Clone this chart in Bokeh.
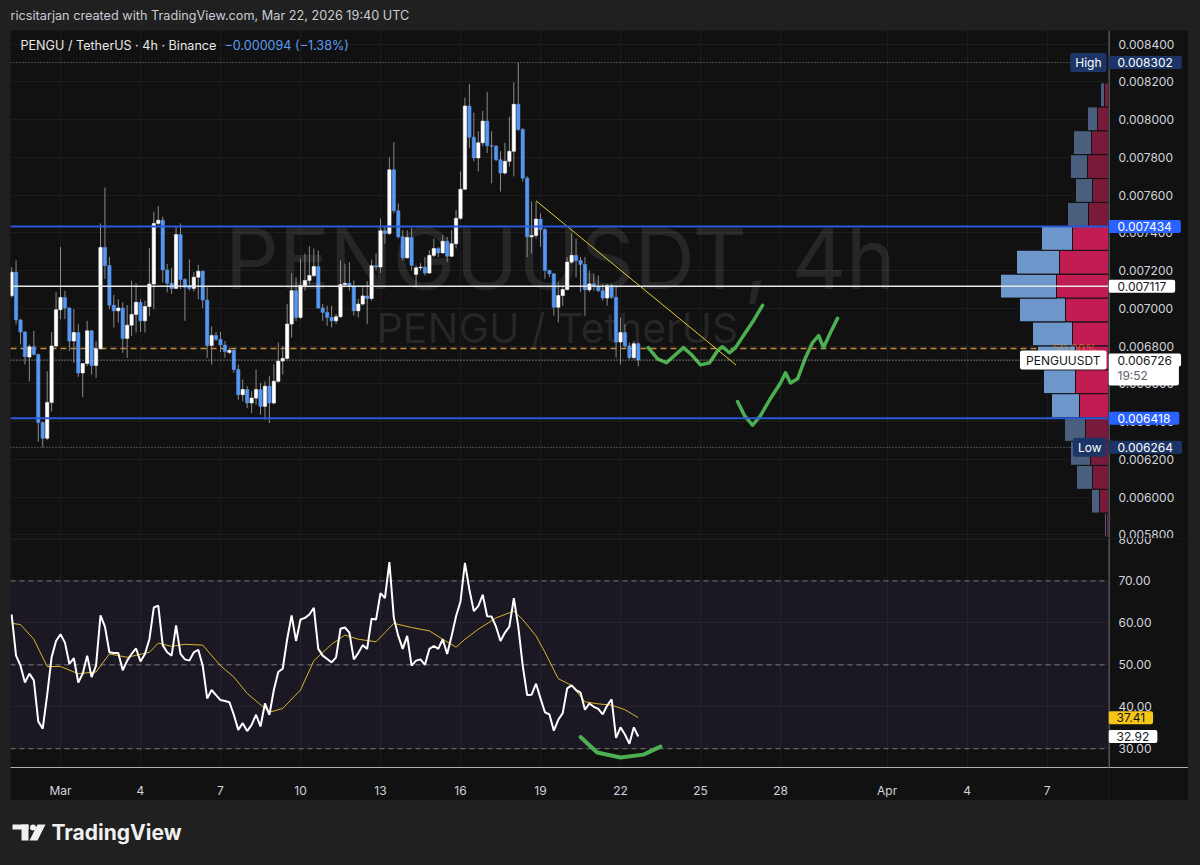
import pandas as pd
from bokeh.plotting import figure
from bokeh.models import (Range1d, FixedTicker, Label, Span, BoxAnnotation,
                          ColumnDataSource, GlobalInlineStyleSheet)
from bokeh.layouts import column, row
from bokeh.embed import file_html
from bokeh.resources import INLINE
from bokeh.core.properties import value

FONT = "Inter"
BG = "#111111"
OUTER = "#202020"
TXT = "#d1d4dc"
AXLINE = "#8f9196"

# ---------------- texts ----------------
header_text = "ricsitarjan created with TradingView.com, Mar 22, 2026 19:40 UTC"
symbol_text = "PENGU / TetherUS · 4h · Binance"
change_text = "−0.000094 (−1.38%)"
watermark_1 = "PENGUUSDT, 4h"
watermark_2 = "PENGU / TetherUS"

# ---------------- candle data (4h bars) ----------------
first_bar = "2026-02-27 04:00"
opens = [
 0.007067, 0.007192, 0.006939, 0.006875, 0.006742, 0.006797, 0.006756, 0.006395, 0.006312, 0.006502,
 0.006801, 0.006993, 0.007058, 0.007002, 0.006827, 0.006872, 0.006658, 0.006708, 0.006881, 0.006697,
 0.006786, 0.007323, 0.007227, 0.007017, 0.006987, 0.007002, 0.006841, 0.006911, 0.006968, 0.007032,
 0.006934, 0.007010, 0.007129, 0.007450, 0.007467, 0.007204, 0.007133, 0.007106, 0.007391, 0.007153,
 0.007121, 0.007106, 0.007165, 0.007197, 0.007044, 0.006804, 0.006857, 0.006836, 0.006806, 0.006767,
 0.006778, 0.006676, 0.006543, 0.006570, 0.006499, 0.006525, 0.006570, 0.006481, 0.006588, 0.006499,
 0.006614, 0.006721, 0.006735, 0.006917, 0.007094, 0.006952, 0.007121, 0.007148, 0.007174, 0.007222,
 0.007002, 0.006979, 0.006952, 0.006934, 0.006956, 0.007126, 0.007133, 0.007116, 0.006987, 0.007023,
 0.007066, 0.007052, 0.007226, 0.007219, 0.007411, 0.007397, 0.007734, 0.007517, 0.007379, 0.007268,
 0.007375, 0.007180, 0.007215, 0.007219, 0.007187, 0.007281, 0.007317, 0.007294, 0.007356, 0.007276,
 0.007343, 0.007477, 0.007631, 0.008072, 0.007907, 0.007797, 0.007877, 0.007992, 0.007862, 0.007859,
 0.007788, 0.007717, 0.007779, 0.007832, 0.008081, 0.007948, 0.007690, 0.007379, 0.007386, 0.007473,
 0.007418, 0.007201, 0.007183, 0.007006, 0.007068, 0.007100, 0.007245, 0.007281, 0.007254, 0.007233,
 0.007098, 0.007130, 0.007116, 0.007094, 0.007055, 0.007121, 0.007059, 0.006822, 0.006872, 0.006801,
 0.006739, 0.006813]
highs = [
 0.007218, 0.007254, 0.006945, 0.006880, 0.006809, 0.006881, 0.006760, 0.006400, 0.006667, 0.006875,
 0.007085, 0.007325, 0.007094, 0.007005, 0.006996, 0.006916, 0.006665, 0.006934, 0.006885, 0.006827,
 0.007450, 0.007640, 0.007272, 0.007071, 0.007049, 0.007032, 0.007017, 0.007147, 0.007133, 0.007049,
 0.007041, 0.007320, 0.007512, 0.007542, 0.007485, 0.007236, 0.007215, 0.007432, 0.007450, 0.007160,
 0.007259, 0.007192, 0.007231, 0.007200, 0.007112, 0.006904, 0.006875, 0.006875, 0.006828, 0.006792,
 0.006785, 0.006703, 0.006623, 0.006588, 0.006561, 0.006676, 0.006605, 0.006614, 0.006641, 0.006703,
 0.006819, 0.006801, 0.007023, 0.007187, 0.007165, 0.007263, 0.007290, 0.007329, 0.007317, 0.007308,
 0.007023, 0.007014, 0.007014, 0.006970, 0.007254, 0.007237, 0.007245, 0.007148, 0.007050, 0.007112,
 0.007144, 0.007258, 0.007293, 0.007476, 0.007432, 0.007800, 0.007880, 0.007556, 0.007414, 0.007414,
 0.007429, 0.007228, 0.007240, 0.007272, 0.007308, 0.007370, 0.007326, 0.007388, 0.007379, 0.007414,
 0.007521, 0.007726, 0.008117, 0.008188, 0.008037, 0.007939, 0.008046, 0.008147, 0.007939, 0.007865,
 0.007832, 0.007877, 0.008015, 0.008197, 0.008302, 0.007955, 0.007700, 0.007566, 0.007566, 0.007503,
 0.007425, 0.007205, 0.007188, 0.007139, 0.007121, 0.007272, 0.007397, 0.007370, 0.007272, 0.007272,
 0.007201, 0.007183, 0.007174, 0.007130, 0.007130, 0.007130, 0.007121, 0.006952, 0.006917, 0.006819,
 0.006828, 0.006819]
lows = [
 0.007058, 0.006916, 0.006809, 0.006703, 0.006614, 0.006751, 0.006294, 0.006264, 0.006303, 0.006454,
 0.006792, 0.006943, 0.006943, 0.006774, 0.006712, 0.006637, 0.006530, 0.006694, 0.006649, 0.006632,
 0.006783, 0.007156, 0.006996, 0.006898, 0.006925, 0.006765, 0.006738, 0.006854, 0.006872, 0.006875,
 0.006872, 0.006961, 0.006996, 0.007441, 0.007138, 0.007085, 0.007076, 0.007103, 0.007103, 0.006934,
 0.007094, 0.007089, 0.007049, 0.007000, 0.006738, 0.006703, 0.006827, 0.006769, 0.006739, 0.006757,
 0.006659, 0.006516, 0.006508, 0.006472, 0.006445, 0.006490, 0.006437, 0.006410, 0.006392, 0.006490,
 0.006605, 0.006650, 0.006730, 0.006845, 0.006934, 0.006943, 0.007094, 0.007130, 0.007165, 0.006996,
 0.006934, 0.006908, 0.006899, 0.006917, 0.006948, 0.007112, 0.007094, 0.006961, 0.006952, 0.007014,
 0.006917, 0.007041, 0.007201, 0.007187, 0.007343, 0.007388, 0.007503, 0.007370, 0.007254, 0.007263,
 0.007201, 0.007112, 0.007201, 0.007174, 0.007183, 0.007272, 0.007272, 0.007290, 0.007245, 0.007272,
 0.007317, 0.007468, 0.007628, 0.007850, 0.007779, 0.007726, 0.007859, 0.007823, 0.007663, 0.007779,
 0.007619, 0.007708, 0.007752, 0.007699, 0.007939, 0.007672, 0.007272, 0.007290, 0.007370, 0.007326,
 0.007157, 0.007166, 0.006961, 0.006925, 0.007014, 0.007094, 0.007237, 0.007166, 0.007086, 0.006961,
 0.007086, 0.007094, 0.007086, 0.007041, 0.007014, 0.007050, 0.006739, 0.006703, 0.006792, 0.006730,
 0.006730, 0.006694]
closes = [
 0.007192, 0.006939, 0.006875, 0.006744, 0.006797, 0.006756, 0.006395, 0.006312, 0.006502, 0.006801,
 0.006993, 0.007058, 0.007002, 0.006827, 0.006872, 0.006658, 0.006708, 0.006881, 0.006697, 0.006786,
 0.007323, 0.007227, 0.007017, 0.006987, 0.007002, 0.006841, 0.006911, 0.006968, 0.007032, 0.006934,
 0.007010, 0.007129, 0.007450, 0.007467, 0.007204, 0.007133, 0.007106, 0.007391, 0.007153, 0.007112,
 0.007106, 0.007165, 0.007197, 0.007044, 0.006804, 0.006857, 0.006836, 0.006806, 0.006771, 0.006778,
 0.006676, 0.006543, 0.006570, 0.006499, 0.006525, 0.006570, 0.006481, 0.006588, 0.006499, 0.006614,
 0.006721, 0.006735, 0.006917, 0.007094, 0.006952, 0.007121, 0.007148, 0.007174, 0.007222, 0.007002,
 0.006979, 0.006952, 0.006934, 0.006956, 0.007126, 0.007133, 0.007116, 0.006987, 0.007023, 0.007066,
 0.007052, 0.007226, 0.007219, 0.007411, 0.007397, 0.007734, 0.007517, 0.007379, 0.007268, 0.007375,
 0.007228, 0.007215, 0.007219, 0.007187, 0.007281, 0.007317, 0.007294, 0.007356, 0.007276, 0.007343,
 0.007477, 0.007631, 0.008072, 0.007907, 0.007797, 0.007877, 0.007992, 0.007862, 0.007859, 0.007788,
 0.007717, 0.007779, 0.007832, 0.008081, 0.007948, 0.007690, 0.007379, 0.007386, 0.007473, 0.007418,
 0.007201, 0.007183, 0.007006, 0.007068, 0.007100, 0.007245, 0.007281, 0.007254, 0.007233, 0.007098,
 0.007130, 0.007116, 0.007094, 0.007055, 0.007121, 0.007059, 0.006822, 0.006872, 0.006801, 0.006739,
 0.006813, 0.006726]

# ---------------- RSI (14) and its moving average ----------------
rsi = [
 62.0, 52.2, 49.8, 45.8, 47.9, 46.3, 36.5, 34.8, 42.8, 51.8,
 55.7, 57.3, 55.3, 50.2, 51.6, 45.8, 47.9, 52.2, 47.1, 49.8,
 61.8, 59.1, 53.0, 52.8, 52.8, 48.7, 51.0, 52.6, 53.9, 50.8,
 52.6, 56.1, 63.7, 64.1, 54.7, 53.0, 52.2, 59.4, 52.6, 51.3,
 51.0, 53.0, 53.6, 49.8, 42.0, 44.0, 42.8, 41.6, 41.4, 41.1,
 38.1, 34.5, 36.1, 34.2, 35.7, 38.1, 35.3, 40.8, 38.1, 44.0,
 48.3, 49.1, 56.1, 61.8, 55.7, 60.8, 61.2, 62.0, 63.6, 53.8,
 52.2, 51.4, 50.6, 51.8, 58.6, 58.9, 57.7, 51.3, 52.8, 54.7,
 53.8, 61.0, 60.8, 67.1, 65.9, 74.5, 61.2, 56.9, 53.8, 56.9,
 49.8, 51.0, 51.3, 50.0, 53.8, 54.5, 53.8, 56.1, 52.6, 56.9,
 61.6, 65.1, 74.3, 67.9, 62.8, 64.0, 66.7, 61.6, 61.5, 59.1,
 55.7, 57.7, 59.1, 65.9, 59.1, 49.8, 42.8, 42.9, 45.5, 42.0,
 38.7, 38.2, 34.3, 36.9, 38.5, 44.4, 45.1, 44.0, 43.4, 39.3,
 40.8, 40.0, 39.5, 38.2, 40.3, 41.8, 32.6, 35.1, 33.4, 31.2,
 35.1, 32.92]
rsi_ma_bar = [0, 2, 5, 8, 11, 15, 19, 22, 26, 31, 33, 36, 39, 43, 47, 50, 53, 57, 58, 61,
              65, 68, 72, 75, 78, 82, 84, 86, 90, 94, 97, 100, 102, 105, 109, 113, 115, 118,
              120, 123, 126, 129, 132, 135, 138, 141]
rsi_ma = [59.9, 59.6, 56.1, 49.6, 49.6, 47.9, 48.3, 52.6, 51.8, 53.0, 55.2, 54.4, 54.9, 54.7,
          49.8, 47.1, 43.2, 39.6, 38.7, 39.6, 44.0, 51.0, 54.9, 57.1, 56.1, 55.5, 57.7, 59.9,
          58.9, 58.1, 56.1, 54.2, 56.1, 58.5, 61.2, 62.8, 60.8, 56.9, 53.0, 46.7, 45.1, 41.2,
          40.7, 40.4, 39.3, 37.41]

# ---------------- volume profile (rows, bottom to top) ----------------
vp_price = [0.005852, 0.005979, 0.006105, 0.006232, 0.006359, 0.006485, 0.006612, 0.006738,
            0.006865, 0.006992, 0.007118, 0.007245, 0.007371, 0.007498, 0.007625, 0.007751,
            0.007878, 0.008004, 0.008131]
vp_up = [2, 8, 16, 20, 21, 28, 32, 38, 40, 46, 56, 43, 31, 21, 17, 17, 18, 10, 4]
vp_down = [2, 9, 16, 18, 23, 29, 33, 33, 36, 43, 52, 49, 36, 20, 16, 21, 17, 11, 4]
vp_value_area = [0, 0, 0, 0, 0, 1, 1, 1, 1, 1, 1, 1, 1, 0, 0, 0, 0, 0, 0]
vp_row_height = 0.0001266

# ---------------- levels and drawings ----------------
level_high = 0.008302
level_low = 0.006264
level_blue = [0.007434, 0.006418]
level_white = 0.007117
level_fib50 = 0.006787
last_price = 0.006726
countdown = "19:52"
rsi_last = 32.92
rsi_ma_last = 37.41

trend_time = ["2026-03-18 20:00", "2026-03-26 08:00"]
trend_price = [0.00757, 0.00670]

path1_time = ["2026-03-23 01:00", "2026-03-23 09:20", "2026-03-23 17:20", "2026-03-24 01:30",
              "2026-03-24 08:40", "2026-03-24 15:50", "2026-03-25 00:00", "2026-03-25 08:10",
              "2026-03-25 15:20", "2026-03-25 19:50", "2026-03-26 02:10", "2026-03-26 07:30",
              "2026-03-26 16:30", "2026-03-26 23:50", "2026-03-27 07:50"]
path1_price = [0.006792, 0.006733, 0.006712, 0.006755, 0.006792, 0.006755, 0.006701, 0.006712,
               0.006776, 0.006797, 0.006765, 0.006792, 0.006872, 0.006936, 0.007016]
path2_time = ["2026-03-26 09:20", "2026-03-26 15:40", "2026-03-26 22:50", "2026-03-27 06:00",
              "2026-03-27 15:00", "2026-03-28 00:00", "2026-03-28 04:30", "2026-03-28 09:00",
              "2026-03-28 15:20", "2026-03-28 22:30", "2026-03-29 04:50", "2026-03-29 10:20",
              "2026-03-29 14:40", "2026-03-29 21:00", "2026-03-30 03:20"]
path2_price = [0.006507, 0.006432, 0.006381, 0.006432, 0.006523, 0.006605, 0.006659, 0.006605,
               0.006627, 0.006739, 0.006819, 0.006856, 0.006792, 0.006872, 0.006947]
smile_time = ["2026-03-20 12:00", "2026-03-21 03:00", "2026-03-22 00:00", "2026-03-22 20:40",
              "2026-03-23 12:00"]
smile_rsi = [32.8, 29.1, 27.9, 28.6, 30.5]

# ---------------- axes ----------------
price_ticks = [0.0058, 0.0060, 0.0062, 0.0064, 0.0066, 0.0068, 0.0070, 0.0072, 0.0074,
               0.0076, 0.0078, 0.0080, 0.0082, 0.0084]
rsi_ticks = [30, 40, 50, 60, 70, 80]
date_ticks = ["2026-03-01", "2026-03-04", "2026-03-07", "2026-03-10", "2026-03-13",
              "2026-03-16", "2026-03-19", "2026-03-22", "2026-03-25", "2026-03-28",
              "2026-04-01", "2026-04-04", "2026-04-07"]
date_labels = ["Mar", "4", "7", "10", "13", "16", "19", "22", "25", "28", "Apr", "4", "7"]

# =====================================================================
tick_ms = [int(pd.Timestamp(d).value // 10**6) for d in date_ticks]
times = pd.date_range(first_bar, periods=len(closes), freq="4h")
BAR_W = 4 * 3600 * 1000 * 0.76
FRAME_W = 1098
AX_W = 80
MAIN_H = 508
RSI_H = 262

x_rng = Range1d(pd.Timestamp("2026-02-27 03:00"), pd.Timestamp("2026-04-09 07:12"))
y_price = Range1d(0.0057811, 0.008472)
y_rsi = Range1d(25.53, 80.12)

common = dict(output_backend="svg", toolbar_location=None, min_border_left=0,
              min_border_right=0, min_border_top=0, min_border_bottom=0,
              outline_line_color=None)


def tag(fig, y, text, bg, fg, x=0, units="data", align="left", pad=None, size="12px",
        y_offset=0):
    if pad is None:
        pad = dict(left=9, right=9, top=2, bottom=2)
    fig.add_layout(Label(x=x, y=y, x_units=units, y_units="data", text=text, y_offset=y_offset,
                         text_color=fg, text_font=FONT, text_font_size=size,
                         text_baseline="middle", text_align=align,
                         background_fill_color=bg, padding=pad, border_radius=2))


def axis_column(height, yr, ticks, labels, bottom=0):
    fa = figure(width=AX_W, height=height, x_range=Range1d(0, AX_W), y_range=yr,
                x_axis_location="below" if bottom else None, y_axis_location=None,
                background_fill_color=BG, border_fill_color=BG, **common)
    fa.min_border_bottom = bottom
    fa.grid.visible = False
    fa.text(x=[10] * len(ticks), y=ticks, text=labels, text_font=value(FONT),
            text_font_size="12px", text_color=TXT, text_baseline="middle")
    fa.add_layout(Span(location=0.5, dimension="height", line_color=AXLINE, line_width=1))
    if bottom:
        ax = fa.xaxis[0]
        ax.ticker = FixedTicker(ticks=[])
        ax.major_tick_line_color = None
        ax.minor_tick_line_color = None
        ax.axis_line_color = "#b0b0b0"
    return fa


# ---------------- header ----------------
hp = figure(width=1200, height=30, x_range=Range1d(0, 1200), y_range=Range1d(30, 0),
            x_axis_location=None, y_axis_location=None, background_fill_color=OUTER,
            border_fill_color=OUTER, **common)
hp.grid.visible = False
hp.text(x=[10], y=[15], text=[header_text], text_font=value(FONT), text_font_size="12.7px",
        text_color="#c9ccd3", text_baseline="middle")

# ---------------- main price pane ----------------
p = figure(width=FRAME_W, height=MAIN_H, x_axis_type="datetime", x_range=x_rng, y_range=y_price,
           x_axis_location=None, y_axis_location=None, background_fill_color=BG,
           border_fill_color=BG, margin=(0, 0, 0, 10), **common)
p.xgrid.ticker = FixedTicker(ticks=tick_ms)
p.ygrid.ticker = FixedTicker(ticks=price_ticks)
p.grid.grid_line_color = "#1d1d1d"

# watermark
p.add_layout(Label(x=550, y=280, x_units="screen", y_units="screen", text=watermark_1,
                   text_font=FONT, text_font_size="84px", text_color="#ffffff", text_alpha=0.09,
                   text_align="center", text_baseline="middle", level="underlay"))
p.add_layout(Label(x=547, y=211, x_units="screen", y_units="screen", text=watermark_2,
                   text_font=FONT, text_font_size="41px", text_color="#ffffff", text_alpha=0.09,
                   text_align="center", text_baseline="middle", level="underlay"))

# fib 50% line (under the profile)
p.add_layout(Span(location=level_fib50, dimension="width", line_color="#c98b3a",
                  line_width=1.5, line_dash="6 4", level="underlay"))

# volume profile (anchored to the right edge)
p.extra_x_ranges = {"vp": Range1d(FRAME_W, 0)}
vp = pd.DataFrame(dict(y=vp_price, up=vp_up, dn=vp_down, va=vp_value_area))
vp["tot"] = vp.up + vp.dn
vp["cup"] = ["#6d97cb" if v else "#4a5f7e" for v in vp.va]
vp["cdn"] = ["#c21d52" if v else "#7a1a3a" for v in vp.va]
vsrc = ColumnDataSource(vp)
p.hbar(y="y", height=vp_row_height, left=0, right="dn", source=vsrc, x_range_name="vp",
       fill_color="cdn", line_color=BG, line_width=1)
p.hbar(y="y", height=vp_row_height, left="dn", right="tot", source=vsrc, x_range_name="vp",
       fill_color="cup", line_color=BG, line_width=1)

# candles
df = pd.DataFrame(dict(t=times, o=opens, h=highs, l=lows, c=closes))
df["top"] = df[["o", "c"]].max(axis=1)
df["bot"] = df[["o", "c"]].min(axis=1)
up = df[df.c >= df.o]
dn = df[df.c < df.o]
p.segment(x0="t", y0="h", x1="t", y1="l", source=ColumnDataSource(df),
          line_color="#8a8a8a", line_width=1)
p.vbar(x="t", width=BAR_W, top="top", bottom="bot", source=ColumnDataSource(up),
       fill_color="#ffffff", line_color="#ffffff", line_width=0.5)
p.vbar(x="t", width=BAR_W, top="top", bottom="bot", source=ColumnDataSource(dn),
       fill_color="#5597f3", line_color="#5597f3", line_width=0.5)

# horizontal levels
for lv in level_blue:
    p.add_layout(Span(location=lv, dimension="width", line_color="#2a5ad8", line_width=2))
p.add_layout(Span(location=level_white, dimension="width", line_color="#e6e6e6", line_width=1.5))
p.add_layout(Span(location=level_high, dimension="width", line_color="#8a8a8a",
                  line_width=1, line_dash="1 2"))
p.add_layout(Span(location=level_low, dimension="width", line_color="#8a8a8a",
                  line_width=1, line_dash="1 2"))
p.add_layout(Span(location=last_price, dimension="width", line_color="#cfcfcf",
                  line_width=1, line_dash="1 2"))

# drawings
p.line(x=pd.to_datetime(trend_time), y=trend_price, line_color="#e6cf35", line_width=1)
for tt, pp in ((path1_time, path1_price), (path2_time, path2_price)):
    p.line(x=pd.to_datetime(tt), y=pp, line_color="#4caf50", line_width=3.5,
           line_cap="round", line_join="round")

# legend
p.add_layout(Label(x=10, y=MAIN_H - 15, x_units="screen", y_units="screen", text=symbol_text,
                   text_font=FONT, text_font_size="12.6px", text_color="#e8e8e8",
                   text_baseline="middle"))
p.add_layout(Label(x=214, y=MAIN_H - 15, x_units="screen", y_units="screen", text=change_text,
                   text_font=FONT, text_font_size="12.6px", text_color="#5b9cf6",
                   text_baseline="middle"))
p.add_layout(Label(x=1042, y=level_fib50, x_units="screen", y_units="data", text="50.00%",
                   text_font=FONT, text_font_size="12px", text_color="#e0963a", text_alpha=0.6,
                   text_baseline="middle"))

# in-pane tags (right aligned at the axis)
tag(p, level_high, "High", "#1c3566", "#ffffff", x=FRAME_W - 2, units="screen", align="right",
    pad=dict(left=5, right=5, top=2, bottom=2))
tag(p, last_price, "PENGUUSDT", "#ffffff", "#131722", x=FRAME_W - 2, units="screen",
    align="right", pad=dict(left=6, right=6, top=2, bottom=2))
tag(p, level_low, "Low", "#1c3566", "#ffffff", x=FRAME_W - 2, units="screen", align="right",
    pad=dict(left=5, right=5, top=2, bottom=2))

# price scale column
pa = axis_column(MAIN_H, y_price, price_ticks, [f"{t:.6f}" for t in price_ticks])
tag(pa, level_high, "0.008302", "#1c3566", "#ffffff")
tag(pa, level_blue[0], "0.007434", "#2962ff", "#ffffff")
tag(pa, level_white, "0.007117", "#ffffff", "#131722")
tag(pa, last_price, countdown, "#ffffff", "#5d606b", y_offset=-15,
    pad=dict(left=9, right=31, top=3, bottom=3))
tag(pa, last_price, "0.006726", "#ffffff", "#131722")
tag(pa, level_blue[1], "0.006418", "#2962ff", "#ffffff")
tag(pa, level_low, "0.006264", "#1c3566", "#ffffff")

# ---------------- RSI pane ----------------
r = figure(width=FRAME_W, height=RSI_H, x_axis_type="datetime", x_range=x_rng, y_range=y_rsi,
           y_axis_location=None, background_fill_color=BG, border_fill_color=BG,
           margin=(0, 0, 0, 10), **common)
r.min_border_bottom = 30
r.xgrid.ticker = FixedTicker(ticks=tick_ms)
r.ygrid.ticker = FixedTicker(ticks=rsi_ticks)
r.grid.grid_line_color = "#1d1d1d"
xa = r.xaxis[0]
xa.ticker = FixedTicker(ticks=tick_ms)
xa.major_label_overrides = {ms: lab for ms, lab in zip(tick_ms, date_labels)}
xa.major_label_text_font = FONT
xa.major_label_text_font_size = "12px"
xa.major_label_text_color = TXT
xa.major_tick_line_color = None
xa.minor_tick_line_color = None
xa.axis_line_color = "#b0b0b0"
xa.major_label_standoff = 9

r.add_layout(BoxAnnotation(bottom=30, top=70, fill_color="#7e57c2", fill_alpha=0.1,
                           line_color=None, level="underlay"))
for lv in (30, 50, 70):
    r.add_layout(Span(location=lv, dimension="width", line_color="#787878", line_width=1,
                      line_dash="5 4", level="underlay"))
r.line(x=times[rsi_ma_bar], y=rsi_ma, line_color="#d9b52c", line_width=1)
r.line(x=times, y=rsi, line_color="#ffffff", line_width=2)
r.line(x=pd.to_datetime(smile_time), y=smile_rsi, line_color="#4caf50", line_width=4,
       line_cap="round", line_join="round")

ra = axis_column(RSI_H, y_rsi, rsi_ticks, [f"{t:.2f}" for t in rsi_ticks], bottom=30)
tag(ra, rsi_ma_last, "37.41", "#f5c518", "#131722", pad=dict(left=8, right=8, top=2, bottom=2))
tag(ra, rsi_last, "32.92", "#ffffff", "#131722", pad=dict(left=8, right=8, top=2, bottom=2))

# ---------------- footer (logo) ----------------
fp = figure(width=1200, height=64, x_range=Range1d(0, 1200), y_range=Range1d(64, 0),
            x_axis_location=None, y_axis_location=None, background_fill_color=OUTER,
            border_fill_color=OUTER, **common)
fp.grid.visible = False
fp.quad(left=[12], right=[28], top=[24], bottom=[29], fill_color="#f0f0f0", line_color=None)
fp.quad(left=[21], right=[28], top=[24], bottom=[40], fill_color="#f0f0f0", line_color=None)
fp.scatter(x=[32.5], y=[27], size=6, fill_color="#f0f0f0", line_color=None)
fp.patch(x=[37, 45, 37, 29], y=[24, 24, 40, 40], fill_color="#f0f0f0", line_color=None)
fp.text(x=[51], y=[32], text=["TradingView"], text_font=value(FONT), text_font_size="21px",
        text_font_style="bold", text_color="#f0f0f0", text_baseline="middle")

layout = column(hp, row(p, pa, spacing=0), row(r, ra, spacing=0), fp, spacing=0,
                stylesheets=[GlobalInlineStyleSheet(css="html, body { background-color: #202020; }")])

open("out.html", "w").write(file_html(layout, INLINE))
